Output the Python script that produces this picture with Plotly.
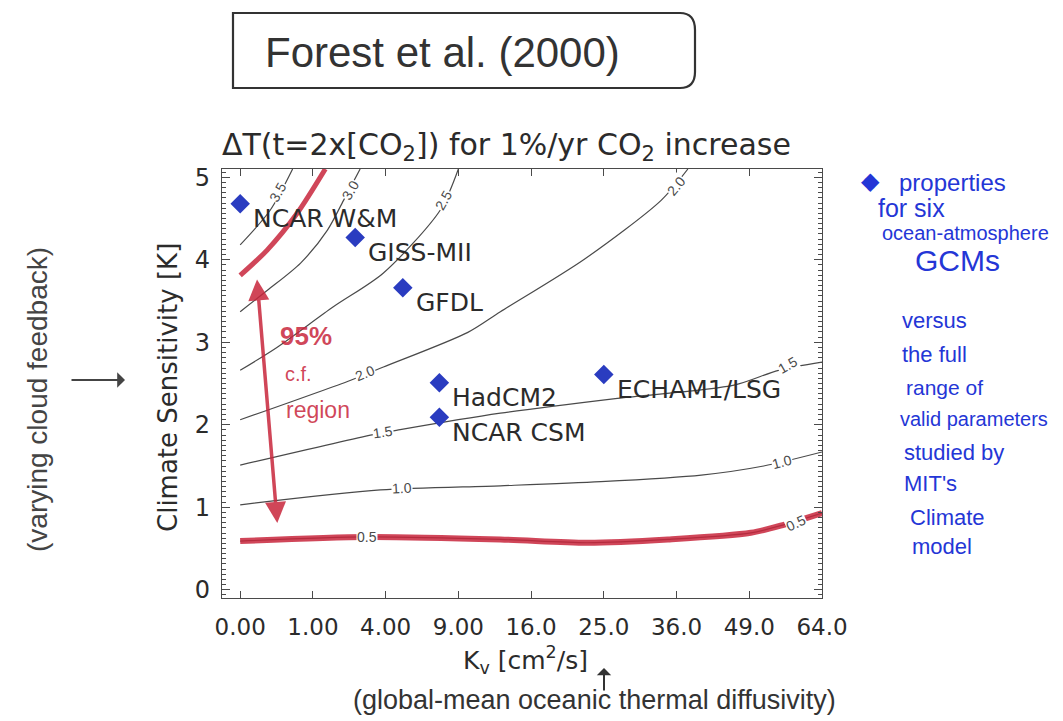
import numpy as np
import plotly.graph_objects as go

# ---- data -------------------------------------------------------------
# Kv tick values (cm^2/s) on a square-root axis
kv_ticks = [0, 1, 4, 9, 16, 25, 36, 49, 64]
kv_ticktext = ["0.00", "1.00", "4.00", "9.00", "16.0", "25.0", "36.0", "49.0", "64.0"]

# Six coupled ocean-atmosphere GCMs
models = ["NCAR W&M", "GISS-MII", "GFDL", "HadCM2", "NCAR CSM", "ECHAM1/LSG"]
model_kv = [0.0, 2.5, 5.0, 7.5, 7.5, 25.0]
model_sens = [4.68, 4.27, 3.66, 2.51, 2.09, 2.61]

# Contours of dT at CO2 doubling (K): Kv and climate sensitivity along each line
c05_kv = [0.0, 3.06, 12.8, 22.8, 34.6, 49.3, 56.0, 64.0]
c05_sens = [0.59, 0.64, 0.61, 0.57, 0.61, 0.69, 0.79, 0.93]
c10_kv = [0.0, 3.72, 12.8, 24.6, 40.2, 51.8, 64.0]
c10_sens = [1.03, 1.21, 1.26, 1.31, 1.39, 1.50, 1.67]
c15_kv = [0.0, 3.35, 4.84, 12.8, 26.9, 46.1, 54.8, 64.0]
c15_sens = [1.51, 1.88, 1.94, 2.14, 2.32, 2.48, 2.66, 2.76]
c20_kv = [0.0, 2.31, 3.88, 9.8, 12.8, 22.3, 33.5, 37.9]
c20_sens = [2.06, 2.54, 2.70, 3.12, 3.37, 4.00, 4.72, 5.10]
c25_kv = [0.0, 0.26, 1.64, 3.88, 7.56, 9.0]
c25_sens = [2.66, 2.94, 3.43, 3.84, 4.60, 5.10]
c30_kv = [0.0, 0.14, 0.69, 1.44, 2.02, 2.72]
c30_sens = [3.37, 3.63, 3.96, 4.36, 4.72, 5.10]
c35_kv = [0.0, 0.17, 0.52]
c35_sens = [4.18, 4.60, 5.10]

# Upper edge of the 95% confidence region
ci_upper_kv = [0.0, 0.14, 0.61, 1.37]
ci_upper_sens = [3.81, 4.12, 4.56, 5.10]

# Contour labels: text, Kv, sensitivity, rotation
clab_text = ["3.5", "3.0", "2.5", "2.0", "2.0", "1.5", "1.5", "1.0", "1.0", "0.5", "0.5"]
clab_kv = [0.27, 2.31, 7.84, 35.9, 2.96, 3.88, 56.7, 4.97, 55.4, 3.06, 58.4]
clab_sens = [4.82, 4.84, 4.72, 4.90, 2.63, 1.91, 2.72, 1.23, 1.55, 0.64, 0.81]
clab_angle = [-60, -60, -60, -50, -22, -8, -30, -3, -15, 0, -25]

# ---- layout geometry ----------------------------------------------------
W, H = 1063, 721
L, R, T, B = 222, 822, 169, 598


def px(xp):
    return (xp - L) / (R - L)


def py(yp):
    return (B - yp) / (B - T)


FONT = "Liberation Sans, Arial, Helvetica, sans-serif"
WIDE = "DejaVu Sans, Verdana, sans-serif"
INK = "#2b2b2b"
LINE = "#4a4a4a"
RED = "rgba(200,38,60,0.85)"
BLUE = "#2436d6"
MARK = "#2a3cc0"

fig = go.Figure()

contours = [
    (c05_kv, c05_sens), (c10_kv, c10_sens), (c15_kv, c15_sens), (c20_kv, c20_sens),
    (c25_kv, c25_sens), (c30_kv, c30_sens), (c35_kv, c35_sens),
]
for kv, s in contours:
    fig.add_trace(go.Scatter(
        x=np.sqrt(kv), y=s, mode="lines",
        line=dict(color=LINE, width=1.2, shape="spline", smoothing=0.8),
        hoverinfo="skip", showlegend=False,
    ))

# red hand-drawn bounds of the 95% region
fig.add_trace(go.Scatter(
    x=np.sqrt(c05_kv), y=c05_sens, mode="lines",
    line=dict(color=RED, width=6, shape="spline", smoothing=0.8),
    hoverinfo="skip", showlegend=False,
))
fig.add_trace(go.Scatter(
    x=np.sqrt(ci_upper_kv), y=ci_upper_sens, mode="lines",
    line=dict(color=RED, width=5, shape="spline", smoothing=0.8),
    hoverinfo="skip", showlegend=False,
))

# model diamonds
fig.add_trace(go.Scatter(
    x=np.sqrt(model_kv), y=model_sens, mode="markers",
    marker=dict(symbol="diamond", size=15, color=MARK),
    hoverinfo="skip", showlegend=False,
))

ann = []


def label(txt, xp, yp, size, color=INK, family=FONT, xanchor="center", angle=0):
    """Free text placed by page pixel position."""
    ann.append(dict(
        x=px(xp), y=py(yp), xref="paper", yref="paper", text=txt, showarrow=False,
        xanchor=xanchor, yanchor="middle", textangle=angle,
        font=dict(family=family, size=size, color=color),
    ))


# contour labels, masking the line beneath them
for t, kv, s, a in zip(clab_text, clab_kv, clab_sens, clab_angle):
    ann.append(dict(
        x=float(np.sqrt(kv)), y=s, xref="x", yref="y", text=t, showarrow=False,
        xanchor="center", yanchor="middle",
        textangle=a, font=dict(family=FONT, size=14, color=LINE),
        bgcolor="white", borderpad=0,
    ))

# model names
for name, kv, s in zip(models, model_kv, model_sens):
    ann.append(dict(
        x=float(np.sqrt(kv)), y=s, xref="x", yref="y", text=name, showarrow=False,
        xanchor="left", yanchor="middle", xshift=11, yshift=-15,
        font=dict(family=WIDE, size=25, color=INK),
    ))

# red double arrow spanning the 95% region
ann.append(dict(
    x=float(np.sqrt(0.26)), y=0.81, ax=float(np.sqrt(0.053)), ay=3.78,
    xref="x", yref="y", axref="x", ayref="y", text="", showarrow=True,
    arrowhead=2, startarrowhead=2, arrowside="end+start", arrowsize=1.2,
    arrowwidth=3.5, arrowcolor=RED,
))
label("<b>95%</b>", 306, 336, 26, RED)
label("c.f.", 298, 374, 20, RED)
label("region", 318, 410, 23, RED)

# chart title and axis titles
label("\u0394T(t=2x[CO<sub>2</sub>]) for 1%/yr CO<sub>2</sub> increase", 506, 147, 30, INK, WIDE)
label("Climate Sensitivity [K]", 168, 388, 26, INK, WIDE, angle=-90)
label("K<sub>v</sub> [cm<sup>2</sup>/s]", 525, 660, 25, INK, WIDE)

# handwritten notes
label("Forest et al. (2000)", 442, 52, 42, "#333333")
label("(varying cloud feedback)", 37, 400, 28, "#444444", angle=-90)
ann.append(dict(
    x=px(125), y=py(380), ax=-55, ay=0, xref="paper", yref="paper",
    axref="pixel", ayref="pixel", text="", showarrow=True,
    arrowhead=1, arrowsize=1.3, arrowwidth=2, arrowcolor="#444444",
))
label("(global-mean oceanic thermal diffusivity)", 594, 700, 27, "#333333")
ann.append(dict(
    x=px(604), y=py(668), ax=0, ay=24, xref="paper", yref="paper",
    axref="pixel", ayref="pixel", text="", showarrow=True,
    arrowhead=1, arrowsize=1.2, arrowwidth=2, arrowcolor="#333333",
))

notes = [
    ("properties", 897, 182, 24),
    ("for six", 876, 208, 25),
    ("ocean-atmosphere", 880, 233, 20),
    ("GCMs", 913, 260, 30),
    ("versus", 900, 320, 22),
    ("the full", 900, 354, 22),
    ("range of", 904, 387, 21),
    ("valid parameters", 898, 419, 20),
    ("studied by", 902, 452, 22),
    ("MIT's", 902, 483, 22),
    ("Climate", 908, 517, 22),
    ("model", 910, 546, 22),
]
for txt, xp, yp, sz in notes:
    label(txt, xp, yp, sz, BLUE, xanchor="left")
label("\u25c6", 870, 181, 24, BLUE, "DejaVu Sans")

# hand-drawn box around the reference
x0, x1, y0, y1 = px(233), px(695), py(13), py(88)
xr = px(680)
box_path = (
    f"M {x0},{y0} L {xr},{y0} Q {x1},{y0} {x1},{py(30)} "
    f"L {x1},{py(72)} Q {x1},{y1} {xr},{y1} L {x0},{y1} Z"
)

fig.update_layout(
    width=W, height=H,
    margin=dict(l=L, r=W - R, t=T, b=H - B),
    paper_bgcolor="white", plot_bgcolor="white",
    annotations=ann,
    shapes=[dict(type="path", path=box_path, xref="paper", yref="paper",
                 line=dict(color="#333333", width=2.2))],
    xaxis=dict(
        range=[-0.25, 8.0], tickvals=list(np.sqrt(kv_ticks)), ticktext=kv_ticktext,
        ticks="inside", ticklen=7, tickcolor=LINE, mirror="ticks",
        showline=True, linecolor=LINE, linewidth=1.2, showgrid=False, zeroline=False,
        tickfont=dict(family=WIDE, size=23, color=INK), ticklabelstandoff=8,
    ),
    yaxis=dict(
        range=[-0.1, 5.1], tick0=0, dtick=1,
        ticks="inside", ticklen=8, tickcolor=LINE, mirror="ticks",
        showline=True, linecolor=LINE, linewidth=1.2, showgrid=False, zeroline=False,
        tickfont=dict(family=WIDE, size=24, color=INK), ticklabelstandoff=6,
        minor=dict(ticks="inside", ticklen=4, dtick=0.0625, tick0=0, tickcolor=LINE),
    ),
)

fig.write_html("out.html")
